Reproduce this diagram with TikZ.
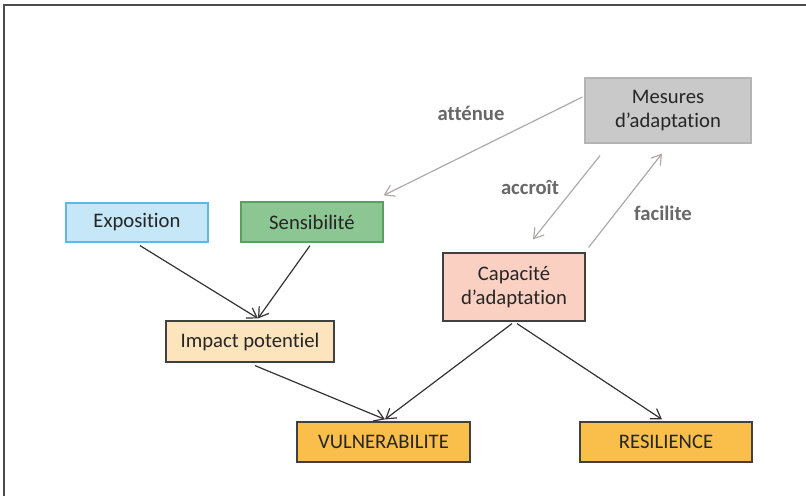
\documentclass[tikz,border=0pt]{standalone}
\usepackage{fontspec}
\setmainfont{Carlito}[RawFeature=-liga]
\usepackage{xcolor}
\usetikzlibrary{arrows.meta,calc}
\definecolor{mesfill}{HTML}{C9C9C9}
\definecolor{mesline}{HTML}{B4B4B4}
\definecolor{expfill}{HTML}{C6E7F7}
\definecolor{expline}{HTML}{5BB8E8}
\definecolor{senfill}{HTML}{8CC692}
\definecolor{senline}{HTML}{5A9E60}
\definecolor{capfill}{HTML}{F9D0C2}
\definecolor{impfill}{HTML}{FCE4BD}
\definecolor{resfill}{HTML}{F9BF4A}
\definecolor{boxline}{HTML}{404040}
\definecolor{weakarrow}{HTML}{B0A8A8}
\definecolor{labelgray}{HTML}{686868}
\tikzset{
  boite/.style={draw=boxline, line width=0.9pt, inner sep=0pt, align=center, text=black!85, font=\fontsize{15.5}{18.5}\selectfont},
  lien/.style={-{Straight Barb[length=7pt,width=9pt]}, line width=0.9pt, color=black!80},
  lienclair/.style={-{Straight Barb[length=7pt,width=9pt]}, line width=0.9pt, color=weakarrow},
  verbe/.style={text=labelgray, font=\bfseries\fontsize{15.5}{18}\selectfont}
}
\begin{document}
\begin{tikzpicture}[x={(0.75pt,0)},y={(0,-0.75pt)}]
\useasboundingbox (0,0) rectangle (806,496);
\draw[line width=1pt, color=black!70] (4,496) -- (4,5) -- (806,5);
% les boites
\node[boite, draw=mesline, fill=mesfill, minimum width=166*0.75pt, minimum height=65*0.75pt] (mesures) at (668,110.5) {Mesures\\d'adaptation};
\node[boite, draw=expline, fill=expfill, minimum width=142*0.75pt, minimum height=39*0.75pt] (expo) at (137,222.5) {Exposition};
\node[boite, draw=senline, fill=senfill, minimum width=142*0.75pt, minimum height=40*0.75pt] (sensi) at (312,222) {Sensibilité};
\node[boite, fill=capfill, minimum width=142*0.75pt, minimum height=68*0.75pt] (capa) at (514,287) {Capacité\\d'adaptation};
\node[boite, fill=impfill, minimum width=168*0.75pt, minimum height=41*0.75pt] (impact) at (250,341.5) {Impact potentiel};
\node[boite, fill=resfill, minimum width=173*0.75pt, minimum height=40*0.75pt] (vuln) at (383.5,442) {VULNERABILITE};
\node[boite, fill=resfill, minimum width=172*0.75pt, minimum height=40*0.75pt] (resil) at (666,442) {RESILIENCE};
% fleches grises
\draw[lienclair] ($(mesures.west)+(-2,-13.5)$) -- ($(sensi.north east)+(0,-6)$);
\draw[lienclair] ($(mesures.south)+(-68,12)$) -- ($(capa.north)+(19,-13)$);
\draw[lienclair] ($(capa.north east)+(3,-5)$) -- ($(mesures.south)+(-6,10)$);
\node[verbe] (attenue) at (471,113) {atténue};
\node[verbe] (accroit) at (530,188) {accroît};
\node[verbe] (facilite) at (663,213) {facilite};
% fleches noires
\draw[lien] ($(expo.south)+(3,3)$) -- ($(impact.north)+(8,-2)$);
\draw[lien] ($(sensi.south)+(-2,3)$) -- ($(impact.north)+(8,-2)$);
\draw[lien] ($(impact.south)+(5,3)$) -- ($(vuln.north)+(1.5,-2)$);
\draw[lien] ($(capa.south)+(-2,2)$) -- ($(vuln.north)+(1.5,-2)$);
\draw[lien] ($(capa.south)+(3,2)$) -- ($(resil.north)+(-4,-2)$);
\end{tikzpicture}
\end{document}
